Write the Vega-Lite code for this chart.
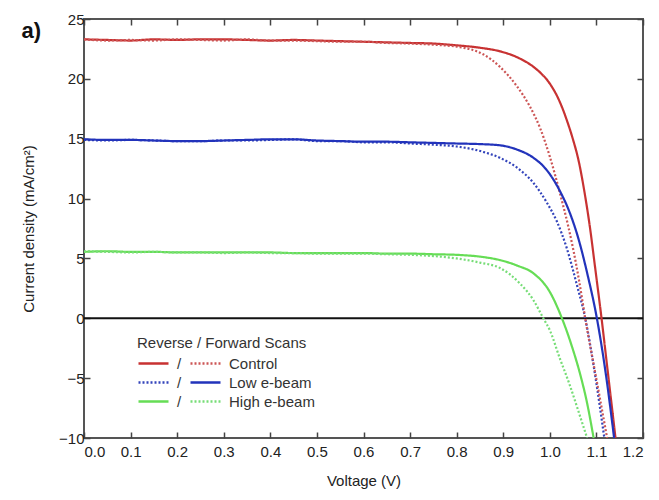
{
 "$schema": "https://vega.github.io/schema/vega-lite/v6.json",
 "width": 559,
 "height": 419,
 "autosize": {"type": "none"},
 "padding": {"left": 84, "top": 19, "right": 16, "bottom": 62},
 "background": "white",
 "title": {"text": "a)", "anchor": "start", "frame": "bounds", "fontSize": 22, "fontWeight": "bold", "font": "Liberation Sans", "baseline": "alphabetic", "offset": -48, "color": "#111"},
 "datasets": {
  "reverse": [
   {"sample":"Control","v":0,"j":23.3},{"sample":"Control","v":0.05,"j":23.25},{"sample":"Control","v":0.1,"j":23.2},{"sample":"Control","v":0.15,"j":23.3},{"sample":"Control","v":0.2,"j":23.25},{"sample":"Control","v":0.25,"j":23.3},{"sample":"Control","v":0.3,"j":23.3},{"sample":"Control","v":0.35,"j":23.25},{"sample":"Control","v":0.4,"j":23.2},{"sample":"Control","v":0.45,"j":23.25},{"sample":"Control","v":0.5,"j":23.2},{"sample":"Control","v":0.55,"j":23.15},{"sample":"Control","v":0.6,"j":23.1},{"sample":"Control","v":0.65,"j":23.05},{"sample":"Control","v":0.7,"j":23.0},{"sample":"Control","v":0.75,"j":22.95},{"sample":"Control","v":0.8,"j":22.8},{"sample":"Control","v":0.85,"j":22.6},{"sample":"Control","v":0.893,"j":22.3},{"sample":"Control","v":0.93,"j":21.8},{"sample":"Control","v":0.965,"j":21.0},{"sample":"Control","v":0.98,"j":20.5},{"sample":"Control","v":1.0,"j":19.6},{"sample":"Control","v":1.02,"j":18.2},{"sample":"Control","v":1.036,"j":16.6},{"sample":"Control","v":1.05,"j":14.9},{"sample":"Control","v":1.061,"j":13.3},{"sample":"Control","v":1.075,"j":10.4},{"sample":"Control","v":1.085,"j":7.9},{"sample":"Control","v":1.098,"j":4.0},{"sample":"Control","v":1.111,"j":0},{"sample":"Control","v":1.126,"j":-5.0},{"sample":"Control","v":1.141,"j":-10},
   {"sample":"Low e-beam","v":0,"j":14.9},{"sample":"Low e-beam","v":0.05,"j":14.85},{"sample":"Low e-beam","v":0.1,"j":14.9},{"sample":"Low e-beam","v":0.15,"j":14.85},{"sample":"Low e-beam","v":0.2,"j":14.8},{"sample":"Low e-beam","v":0.25,"j":14.8},{"sample":"Low e-beam","v":0.3,"j":14.85},{"sample":"Low e-beam","v":0.35,"j":14.85},{"sample":"Low e-beam","v":0.4,"j":14.9},{"sample":"Low e-beam","v":0.45,"j":14.95},{"sample":"Low e-beam","v":0.5,"j":14.8},{"sample":"Low e-beam","v":0.55,"j":14.8},{"sample":"Low e-beam","v":0.6,"j":14.7},{"sample":"Low e-beam","v":0.65,"j":14.7},{"sample":"Low e-beam","v":0.7,"j":14.6},{"sample":"Low e-beam","v":0.75,"j":14.5},{"sample":"Low e-beam","v":0.8,"j":14.35},{"sample":"Low e-beam","v":0.857,"j":13.9},{"sample":"Low e-beam","v":0.893,"j":13.4},{"sample":"Low e-beam","v":0.929,"j":12.6},{"sample":"Low e-beam","v":0.965,"j":11.3},{"sample":"Low e-beam","v":0.993,"j":9.7},{"sample":"Low e-beam","v":1.015,"j":8.1},{"sample":"Low e-beam","v":1.036,"j":5.9},{"sample":"Low e-beam","v":1.058,"j":2.8},{"sample":"Low e-beam","v":1.076,"j":0},{"sample":"Low e-beam","v":1.097,"j":-4.7},{"sample":"Low e-beam","v":1.117,"j":-10},
   {"sample":"High e-beam","v":0,"j":5.55},{"sample":"High e-beam","v":0.05,"j":5.6},{"sample":"High e-beam","v":0.1,"j":5.55},{"sample":"High e-beam","v":0.15,"j":5.55},{"sample":"High e-beam","v":0.2,"j":5.5},{"sample":"High e-beam","v":0.25,"j":5.5},{"sample":"High e-beam","v":0.3,"j":5.5},{"sample":"High e-beam","v":0.35,"j":5.5},{"sample":"High e-beam","v":0.4,"j":5.5},{"sample":"High e-beam","v":0.45,"j":5.45},{"sample":"High e-beam","v":0.5,"j":5.45},{"sample":"High e-beam","v":0.55,"j":5.45},{"sample":"High e-beam","v":0.6,"j":5.45},{"sample":"High e-beam","v":0.65,"j":5.4},{"sample":"High e-beam","v":0.7,"j":5.4},{"sample":"High e-beam","v":0.75,"j":5.35},{"sample":"High e-beam","v":0.8,"j":5.3},{"sample":"High e-beam","v":0.85,"j":5.15},{"sample":"High e-beam","v":0.893,"j":4.86},{"sample":"High e-beam","v":0.93,"j":4.4},{"sample":"High e-beam","v":0.965,"j":3.75},{"sample":"High e-beam","v":1.0,"j":2.2},{"sample":"High e-beam","v":1.026,"j":0},{"sample":"High e-beam","v":1.047,"j":-2.3},{"sample":"High e-beam","v":1.068,"j":-5.1},{"sample":"High e-beam","v":1.079,"j":-6.9},{"sample":"High e-beam","v":1.094,"j":-10}
  ],
  "forward": [
   {"sample":"Control","v":0,"j":23.3},{"sample":"Control","v":0.05,"j":23.2},{"sample":"Control","v":0.1,"j":23.25},{"sample":"Control","v":0.15,"j":23.2},{"sample":"Control","v":0.2,"j":23.3},{"sample":"Control","v":0.25,"j":23.25},{"sample":"Control","v":0.3,"j":23.2},{"sample":"Control","v":0.35,"j":23.3},{"sample":"Control","v":0.4,"j":23.2},{"sample":"Control","v":0.45,"j":23.2},{"sample":"Control","v":0.5,"j":23.15},{"sample":"Control","v":0.55,"j":23.1},{"sample":"Control","v":0.6,"j":23.1},{"sample":"Control","v":0.65,"j":23.0},{"sample":"Control","v":0.7,"j":22.95},{"sample":"Control","v":0.75,"j":22.85},{"sample":"Control","v":0.807,"j":22.65},{"sample":"Control","v":0.857,"j":22.05},{"sample":"Control","v":0.893,"j":21.0},{"sample":"Control","v":0.929,"j":19.4},{"sample":"Control","v":0.957,"j":17.7},{"sample":"Control","v":0.979,"j":15.9},{"sample":"Control","v":1.0,"j":13.5},{"sample":"Control","v":1.022,"j":10.4},{"sample":"Control","v":1.04,"j":7.6},{"sample":"Control","v":1.05,"j":5.8},{"sample":"Control","v":1.063,"j":3.1},{"sample":"Control","v":1.076,"j":0},{"sample":"Control","v":1.101,"j":-5.3},{"sample":"Control","v":1.123,"j":-10},
   {"sample":"Low e-beam","v":0,"j":14.95},{"sample":"Low e-beam","v":0.05,"j":14.9},{"sample":"Low e-beam","v":0.1,"j":14.9},{"sample":"Low e-beam","v":0.15,"j":14.85},{"sample":"Low e-beam","v":0.2,"j":14.8},{"sample":"Low e-beam","v":0.25,"j":14.8},{"sample":"Low e-beam","v":0.3,"j":14.85},{"sample":"Low e-beam","v":0.35,"j":14.9},{"sample":"Low e-beam","v":0.4,"j":14.95},{"sample":"Low e-beam","v":0.45,"j":14.95},{"sample":"Low e-beam","v":0.5,"j":14.85},{"sample":"Low e-beam","v":0.55,"j":14.8},{"sample":"Low e-beam","v":0.6,"j":14.75},{"sample":"Low e-beam","v":0.65,"j":14.75},{"sample":"Low e-beam","v":0.7,"j":14.7},{"sample":"Low e-beam","v":0.75,"j":14.65},{"sample":"Low e-beam","v":0.8,"j":14.6},{"sample":"Low e-beam","v":0.85,"j":14.55},{"sample":"Low e-beam","v":0.893,"j":14.45},{"sample":"Low e-beam","v":0.929,"j":14.1},{"sample":"Low e-beam","v":0.965,"j":13.4},{"sample":"Low e-beam","v":0.993,"j":12.4},{"sample":"Low e-beam","v":1.022,"j":10.6},{"sample":"Low e-beam","v":1.043,"j":8.8},{"sample":"Low e-beam","v":1.061,"j":6.7},{"sample":"Low e-beam","v":1.08,"j":3.8},{"sample":"Low e-beam","v":1.101,"j":0},{"sample":"Low e-beam","v":1.12,"j":-4.6},{"sample":"Low e-beam","v":1.138,"j":-10},
   {"sample":"High e-beam","v":0,"j":5.6},{"sample":"High e-beam","v":0.05,"j":5.55},{"sample":"High e-beam","v":0.1,"j":5.5},{"sample":"High e-beam","v":0.15,"j":5.55},{"sample":"High e-beam","v":0.2,"j":5.5},{"sample":"High e-beam","v":0.25,"j":5.5},{"sample":"High e-beam","v":0.3,"j":5.45},{"sample":"High e-beam","v":0.35,"j":5.5},{"sample":"High e-beam","v":0.4,"j":5.45},{"sample":"High e-beam","v":0.45,"j":5.45},{"sample":"High e-beam","v":0.5,"j":5.4},{"sample":"High e-beam","v":0.55,"j":5.4},{"sample":"High e-beam","v":0.6,"j":5.4},{"sample":"High e-beam","v":0.65,"j":5.35},{"sample":"High e-beam","v":0.7,"j":5.3},{"sample":"High e-beam","v":0.75,"j":5.2},{"sample":"High e-beam","v":0.8,"j":5.0},{"sample":"High e-beam","v":0.85,"j":4.65},{"sample":"High e-beam","v":0.893,"j":4.2},{"sample":"High e-beam","v":0.936,"j":2.9},{"sample":"High e-beam","v":0.965,"j":1.5},{"sample":"High e-beam","v":0.986,"j":0},{"sample":"High e-beam","v":1.0,"j":-1.0},{"sample":"High e-beam","v":1.021,"j":-3.3},{"sample":"High e-beam","v":1.043,"j":-5.6},{"sample":"High e-beam","v":1.06,"j":-7.6},{"sample":"High e-beam","v":1.08,"j":-10}
  ]
 },
 "layer": [
  {
   "data": {"values": [{}]},
   "mark": {"type": "rule", "color": "#111", "strokeWidth": 2},
   "encoding": {"y": {"datum": 0, "type": "quantitative", "scale": {"domain": [-10, 25], "nice": false}, "axis": null}}
  },
  {
   "data": {"name": "reverse"},
   "mark": {"type": "line", "strokeWidth": 2.2, "clip": true, "interpolate": "monotone"},
   "encoding": {
    "x": {"field": "v", "type": "quantitative", "scale": {"domain": [0, 1.2], "nice": false, "zero": false},
          "axis": {"orient": "bottom", "values": [0,0.1,0.2,0.3,0.4,0.5,0.6,0.7,0.8,0.9,1.0,1.1,1.2], "format": ".1f", "title": "Voltage (V)", "labelPadding": 12, "titlePadding": 14}},
    "y": {"field": "j", "type": "quantitative", "scale": {"domain": [-10, 25], "nice": false},
          "axis": {"orient": "left", "values": [-10,-5,0,5,10,15,20,25], "title": "Current density (mA/cm²)", "labelPadding": 6, "titlePadding": 22}},
    "color": {"field": "sample", "type": "nominal",
              "scale": {"domain": ["Control", "Low e-beam", "High e-beam"], "range": ["#c83232", "#3344bb", "#66dd55"]},
              "legend": {"title": "Reverse / Forward Scans", "orient": "none", "legendX": 53, "legendY": 317, "labelExpr": "'/'", "symbolType": "stroke", "symbolSize": 900, "symbolStrokeWidth": 2.5, "clipHeight": 17, "rowPadding": 2, "labelOffset": 7, "titlePadding": 4}},
    "strokeDash": {"field": "sample", "type": "nominal",
              "scale": {"domain": ["Control", "Low e-beam", "High e-beam"], "range": [[1,0],[2,2],[1,0]]},
              "legend": {"title": "Reverse / Forward Scans", "orient": "none", "legendX": 53, "legendY": 317, "labelExpr": "'/'", "symbolType": "stroke", "symbolSize": 900, "symbolStrokeWidth": 2.5, "clipHeight": 17, "rowPadding": 2, "labelOffset": 7, "titlePadding": 4}}
   }
  },
  {
   "data": {"name": "forward"},
   "mark": {"type": "line", "strokeWidth": 2.2, "clip": true, "interpolate": "monotone"},
   "encoding": {
    "x": {"field": "v", "type": "quantitative", "scale": {"domain": [0, 1.2], "nice": false, "zero": false},
          "axis": {"orient": "top", "values": [0,0.1,0.2,0.3,0.4,0.5,0.6,0.7,0.8,0.9,1.0,1.1,1.2], "labels": false, "title": null}},
    "y": {"field": "j", "type": "quantitative", "scale": {"domain": [-10, 25], "nice": false},
          "axis": {"orient": "right", "values": [-10,-5,0,5,10,15,20,25], "labels": false, "title": null}},
    "color": {"field": "sample", "type": "nominal",
              "scale": {"domain": ["Control", "Low e-beam", "High e-beam"], "range": ["#cc5555", "#2233bb", "#77dd77"]},
              "legend": {"title": null, "orient": "none", "legendX": 105, "legendY": 336, "symbolType": "stroke", "symbolSize": 900, "symbolStrokeWidth": 2.5, "clipHeight": 17, "rowPadding": 2, "labelOffset": 7}},
    "strokeDash": {"field": "sample", "type": "nominal",
              "scale": {"domain": ["Control", "Low e-beam", "High e-beam"], "range": [[2,2],[1,0],[2,2]]},
              "legend": {"title": null, "orient": "none", "legendX": 105, "legendY": 336, "symbolType": "stroke", "symbolSize": 900, "symbolStrokeWidth": 2.5, "clipHeight": 17, "rowPadding": 2, "labelOffset": 7}}
   }
  }
 ],
 "resolve": {"scale": {"color": "independent", "strokeDash": "independent"}, "axis": {"x": "independent", "y": "independent"}},
 "config": {
  "font": "Liberation Sans",
  "view": {"stroke": "#555", "strokeWidth": 2},
  "axis": {"labelFont": "Liberation Sans", "labelFontSize": 15, "labelColor": "#222", "titleFont": "Liberation Sans", "titleFontSize": 15, "titleFontWeight": "normal", "titleColor": "#222", "tickColor": "#444", "tickWidth": 1.5, "tickSize": -6, "domain": false, "grid": false},
  "legend": {"padding": 0, "titleFont": "Liberation Sans", "labelFont": "Liberation Sans", "titleFontSize": 15, "titleFontWeight": "normal", "titleColor": "#333", "labelFontSize": 15, "labelColor": "#333"}
 }
}
